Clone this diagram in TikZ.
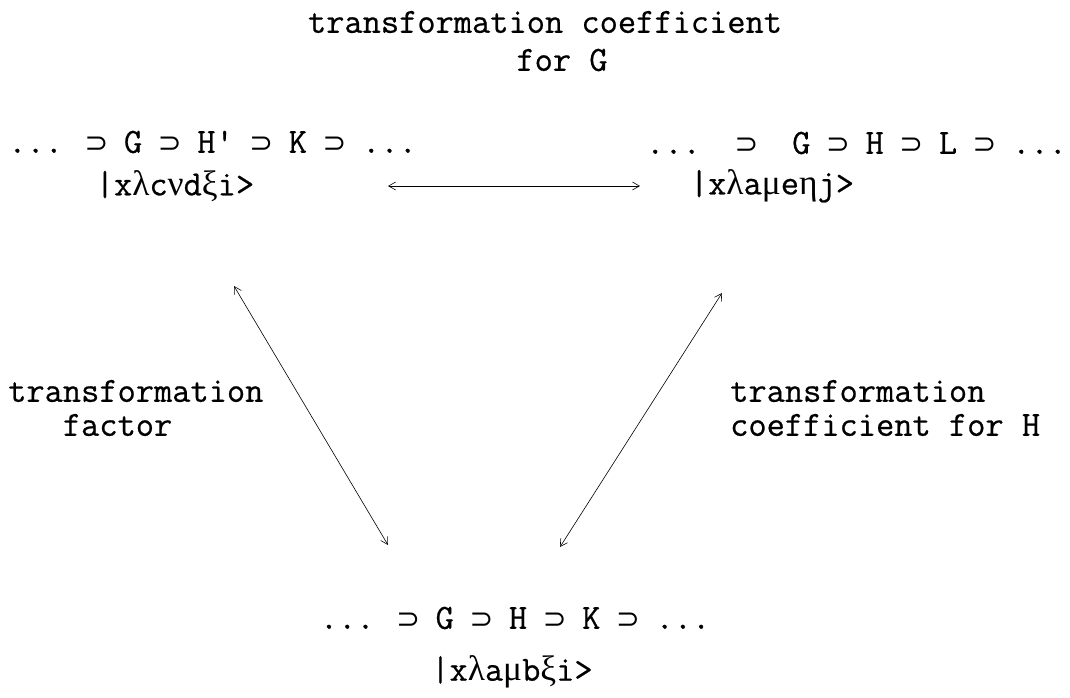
\documentclass[tikz,border=0pt]{standalone}
\usepackage{fontspec}
\usepackage{graphicx}
\usetikzlibrary{arrows.meta}
\newfontfamily\tw{Latin Modern Mono}[FakeBold=0.6]
\newfontfamily\gk{Liberation Serif}
\newfontfamily\symf{DejaVu Sans}
\newcommand\sps{\makebox[0.525em]{\symf\scalebox{0.8}{⊃}}}
\newcommand\gl[1]{{\gk #1}}
\tikzset{
  txt/.style={inner sep=0pt, font=\tw\fontsize{35.4}{34}\selectfont},
  rel/.style={line width=0.6pt, {Straight Barb[length=7pt,width=8pt]}-{Straight Barb[length=7pt,width=8pt]}}
}
\begin{document}
\begin{tikzpicture}[x=1pt,y=-1pt]
\useasboundingbox (0,0) rectangle (1070,698);
% top title
\node[txt] (title) at (545,22) {transformation coefficient};
\node[txt] (forg) at (562,60) {for G};
% chains
\node[txt, anchor=west] (lchain) at (8,142) {... \sps{} G \sps{} H' \sps{} K \sps{} ...};
\node[txt, anchor=east] (rchain) at (1067,143) {...\ \ \sps{}\ \ G \sps{} H \sps{} L \sps{} ...};
\node[txt] (lket) at (175,186) {|x\gl{λ}c\gl{ν}d\gl{ξ}i>};
\node[txt] (rket) at (772,186) {|x\gl{λ}a\gl{μ}e\gl{η}j>};
\node[txt] (bchain) at (515,618) {... \sps{} G \sps{} H \sps{} K \sps{} ...};
\node[txt] (bket) at (512,672) {|x\gl{λ}a\gl{μ}b\gl{ξ}i>};
% side labels
\node[txt, anchor=west, align=left] (lfac) at (8,408) {transformation\\\ \ \ factor};
\node[txt, anchor=west, align=left] (rfac) at (730,408) {transformation\\coefficient for H};
% connectors
\coordinate (h1) at (388,186);
\coordinate (h2) at (640,186);
\coordinate (l1) at (234,286);
\coordinate (l2) at (388,545);
\coordinate (r1) at (722,293);
\coordinate (r2) at (560,547);
\draw[rel] (h1) -- (h2);
\draw[rel] (l1) -- (l2);
\draw[rel] (r1) -- (r2);
\end{tikzpicture}
\end{document}
